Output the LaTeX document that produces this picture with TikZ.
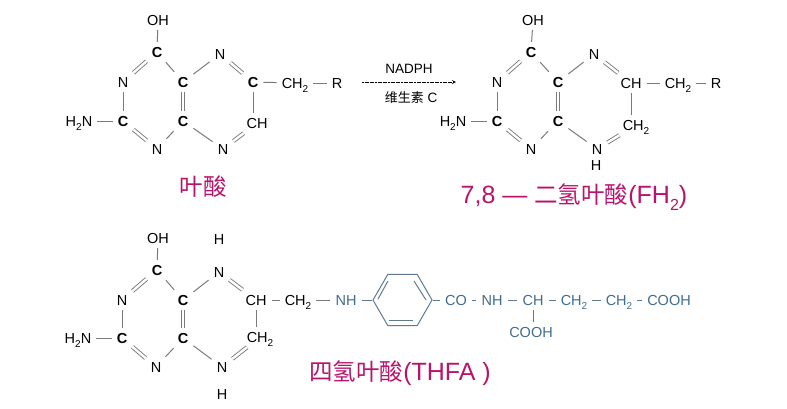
\documentclass[tikz,border=0pt]{standalone}
\usepackage{fontspec}
\setmainfont{Liberation Sans}
\newfontfamily\cjk{Noto Sans CJK SC}
\usetikzlibrary{shapes.geometric}
\newcommand{\subtwo}{\raisebox{-0.28em}{\fontsize{10}{10}\selectfont 2}}
\newcommand{\bigsubtwo}{\raisebox{-0.28em}{\fontsize{16}{16}\selectfont 2}}
\newcommand{\hanzi}[1]{{\cjk\fontsize{23.5}{23.5}\selectfont #1}}
\tikzset{
	atom/.style={inner sep=5pt,text height=10pt,text depth=0pt,font=\fontsize{14.5}{14.5}\selectfont},
	catom/.style={atom,font=\fontsize{14.5}{14.5}\selectfont\bfseries},
	bluegroup/.style={atom,text=tailblue},
	single/.style={draw=bondgray,line width=1pt},
	twin/.style={draw=bondgray,line width=0.9pt,double,double distance=2.4pt},
	caption/.style={inner sep=0pt,text=capred,font=\fontsize{25}{25}\selectfont},
	small/.style={inner sep=0pt,font=\fontsize{13.5}{13.5}\selectfont},
}
\begin{document}
\begin{tikzpicture}[x=1pt,y=-1pt]
		\definecolor{bondgray}{HTML}{7A7A7A}
		\definecolor{tailblue}{HTML}{3F6D92}
		\definecolor{ringblue}{HTML}{5F7A90}
		\definecolor{capred}{HTML}{B8146C}
		\useasboundingbox (0,0) rectangle (787,408);
		
		% folic acid
		\node[atom] (oh1) at (158,20) {OH};
		\node[catom] (ct1) at (157,52) {C};
		\node[atom] (nl1) at (123,82) {N};
		\node[catom] (cl1) at (123,121) {C};
		\node[atom] (am1) at (79,121) {H\subtwo N};
		\node[atom] (nb1) at (157,149) {N};
		\node[catom] (cu1) at (183,82) {C};
		\node[catom] (cd1) at (183,121) {C};
		\node[atom] (nu1) at (220,54) {N};
		\node[atom] (nd1) at (223,149) {N};
		\node[catom] (cr1) at (253,82) {C};
		\node[atom] (ch1) at (257,123) {CH};
		\node[atom] (me1) at (295,83) {CH\subtwo};
		\node[atom] (rg1) at (337,83) {R};
		\draw[single] (oh1) -- (ct1);
		\draw[twin] (ct1) -- (nl1);
		\draw[single] (nl1) -- (cl1);
		\draw[single] (am1) -- (cl1);
		\draw[twin] (cl1) -- (nb1);
		\draw[single] (nb1) -- (cd1);
		\draw[twin] (cu1) -- (cd1);
		\draw[single] (ct1) -- (cu1);
		\draw[single] (cu1) -- (nu1);
		\draw[twin] (nu1) -- (cr1);
		\draw[single] (cr1) -- (cr1 |- ch1.north);
		\draw[twin] (ch1) -- (nd1);
		\draw[single] (cd1) -- (nd1);
		\draw[single] (cr1) -- (me1);
		\draw[single] (me1) -- (rg1);
		\node[caption] (cap1) at (203,187) {\hanzi{叶酸}};
		
		% reaction arrow
		\coordinate (from) at (362,82);
		\coordinate (to) at (456,82);
		\draw[line width=0.8pt,dash pattern=on 2pt off 0.6pt,-stealth] (from) -- (to);
		\node[small] (nadph) at (409,69) {NADPH};
		\node[small] (vitc) at (411,98) {{\cjk\fontsize{13}{13}\selectfont 维生素} C};
		
		% 7,8-dihydro
		\node[atom] (oh2) at (533,20) {OH};
		\node[catom] (ct2) at (531,52) {C};
		\node[atom] (nl2) at (497,82) {N};
		\node[catom] (cl2) at (497,121) {C};
		\node[atom] (am2) at (453,121) {H\subtwo N};
		\node[atom] (nb2) at (531,149) {N};
		\node[catom] (cu2) at (558,82) {C};
		\node[catom] (cd2) at (558,121) {C};
		\node[atom] (nu2) at (594,54) {N};
		\node[atom] (nd2) at (597,149) {N};
		\node[atom] (hb2) at (596,165) {H};
		\node[atom] (cr2) at (631,83) {CH};
		\node[atom] (ch2) at (636,125) {CH\subtwo};
		\node[atom] (me2) at (678,83) {CH\subtwo};
		\node[atom] (rg2) at (716,83) {R};
		\draw[single] (oh2) -- (ct2);
		\draw[twin] (ct2) -- (nl2);
		\draw[single] (nl2) -- (cl2);
		\draw[single] (am2) -- (cl2);
		\draw[twin] (cl2) -- (nb2);
		\draw[single] (nb2) -- (cd2);
		\draw[twin] (cu2) -- (cd2);
		\draw[single] (ct2) -- (cu2);
		\draw[single] (cu2) -- (nu2);
		\draw[twin] (nu2) -- (cr2);
		\draw[single] (cr2) -- (cr2 |- ch2.north);
		\draw[twin] (ch2) -- (nd2);
		\draw[single] (cd2) -- (nd2);
		\draw[single] (cr2) -- (me2);
		\draw[single] (me2) -- (rg2);
		\node[caption] (cap2) at (574,197) {7,8 — \hanzi{二氢叶酸}(FH\bigsubtwo)};
		
		% tetrahydro
		\node[atom] (oh3) at (158,238) {OH};
		\node[atom] (ht3) at (219,239) {H};
		\node[catom] (ct3) at (157,270) {C};
		\node[atom] (nl3) at (122,300) {N};
		\node[catom] (cl3) at (122,338) {C};
		\node[atom] (am3) at (78,338) {H\subtwo N};
		\node[atom] (nb3) at (156,367) {N};
		\node[catom] (cu3) at (183,300) {C};
		\node[catom] (cd3) at (183,338) {C};
		\node[atom] (nu3) at (219,272) {N};
		\node[atom] (nd3) at (222,367) {N};
		\node[atom] (hb3) at (222,394) {H};
		\node[atom] (cr3) at (256,300) {CH};
		\node[atom] (ch3) at (260,337) {CH\subtwo};
		\node[atom] (me3) at (298,300) {CH\subtwo};
		\draw[single] (oh3) -- (ct3);
		\draw[twin] (ct3) -- (nl3);
		\draw[single] (nl3) -- (cl3);
		\draw[single] (am3) -- (cl3);
		\draw[twin] (cl3) -- (nb3);
		\draw[single] (nb3) -- (cd3);
		\draw[twin] (cu3) -- (cd3);
		\draw[single] (ct3) -- (cu3);
		\draw[single] (cu3) -- (nu3);
		\draw[twin] (nu3) -- (cr3);
		\draw[single] (cr3) -- (cr3 |- ch3.north);
		\draw[twin] (ch3) -- (nd3);
		\draw[single] (cd3) -- (nd3);
		\draw[single] (cr3) -- (me3);
		
		% benzene ring and tail
		\node[bluegroup] (nh3) at (346,300) {NH};
		\node[draw=ringblue,line width=1pt,regular polygon,regular polygon sides=6,minimum size=59pt,inner sep=0pt] (ring) at (402.5,300) {};
		\draw[ringblue,line width=1pt] (378,299) -- (388,281);
		\draw[ringblue,line width=1pt] (414,281) -- (426,300);
		\draw[ringblue,line width=1pt] (389,320) -- (413,320);
		\node[bluegroup] (co3) at (456,300) {CO};
		\node[bluegroup] (nh4) at (492,300) {NH};
		\node[bluegroup] (cp3) at (533,300) {CH};
		\node[bluegroup] (mf3) at (574,300) {CH\subtwo};
		\node[bluegroup] (mg3) at (619,300) {CH\subtwo};
		\node[bluegroup] (ac3) at (669,300) {COOH};
		\node[bluegroup] (ad3) at (531,332) {COOH};
		\draw[single] (me3) -- (nh3);
		\draw[single,draw=ringblue] (nh3) -- (ring.west);
		\draw[single,draw=ringblue] (ring.east) -- (co3);
		\draw[single,draw=ringblue] (co3) -- (nh4);
		\draw[single,draw=ringblue] (nh4) -- (cp3);
		\draw[single,draw=ringblue] (cp3) -- (mf3);
		\draw[single,draw=ringblue] (mf3) -- (mg3);
		\draw[single,draw=ringblue] (mg3) -- (ac3);
		\draw[single,draw=ringblue] (cp3) -- (cp3 |- ad3.north);
		\node[caption] (cap3) at (400,373) {\hanzi{四氢叶酸}(THFA )};
\end{tikzpicture}
\end{document}
